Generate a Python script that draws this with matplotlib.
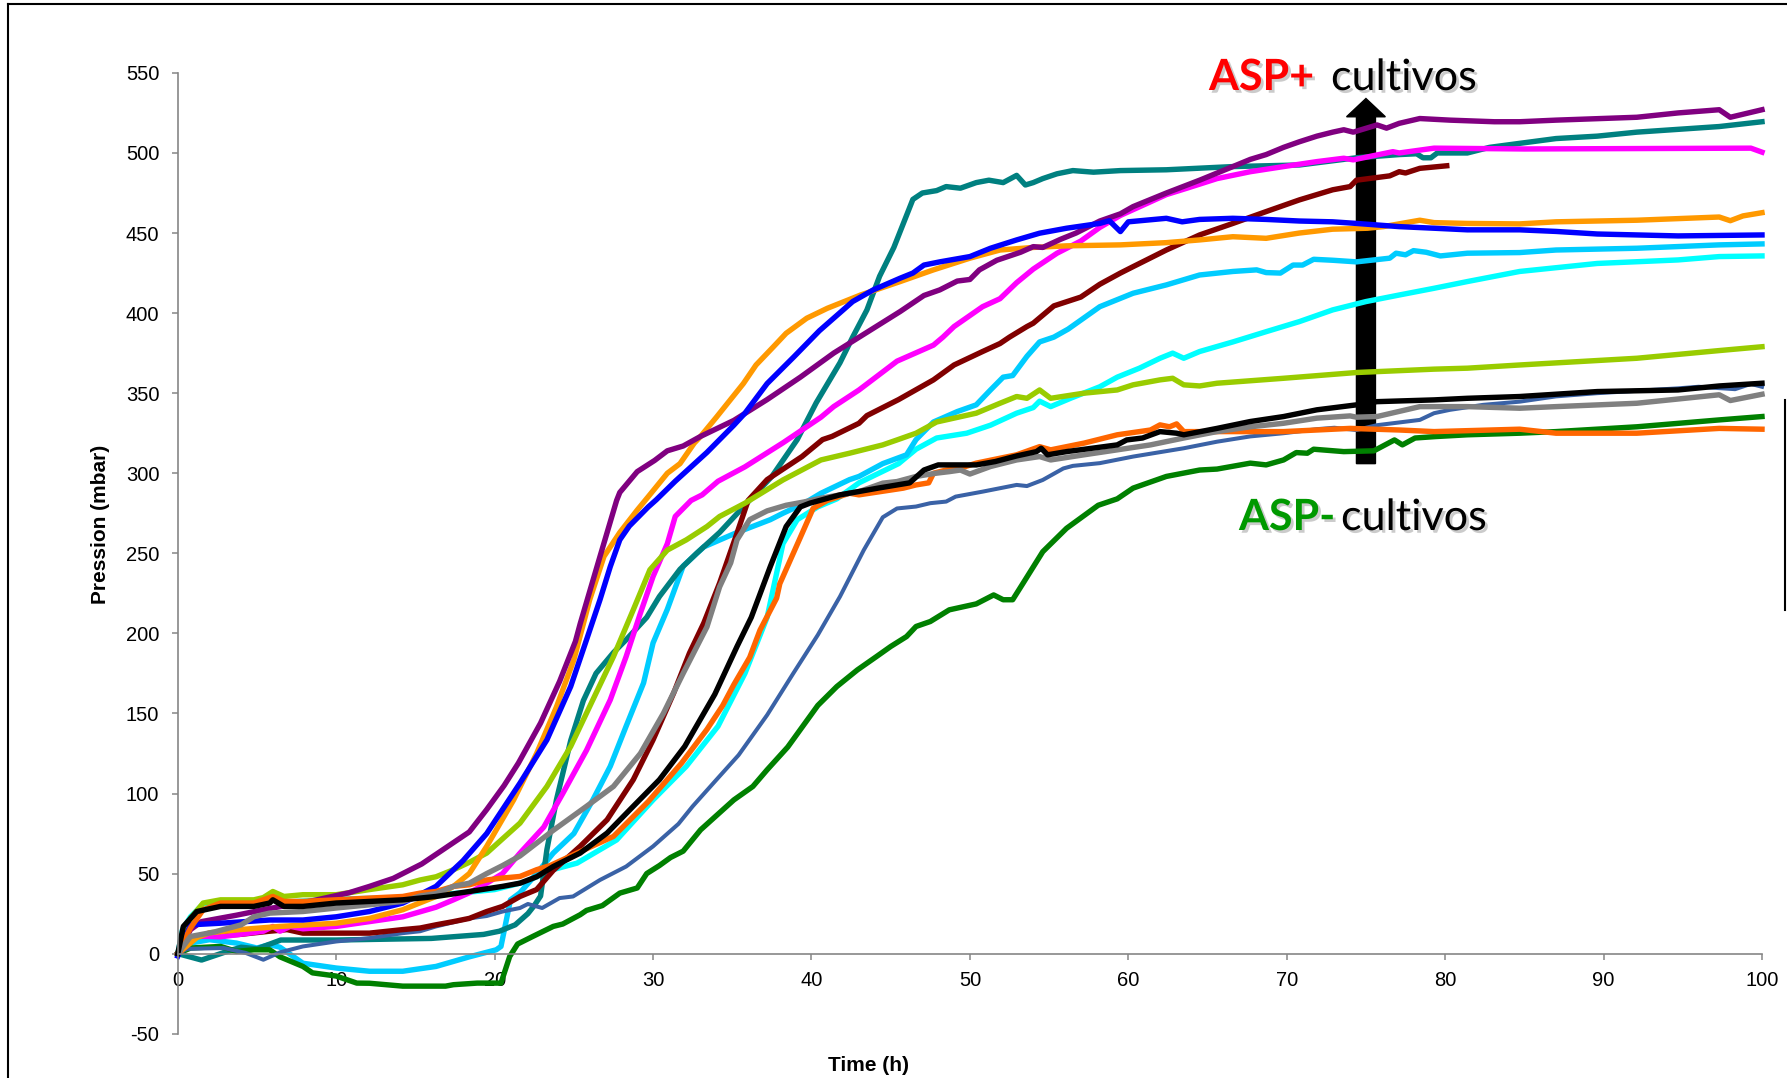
import matplotlib
matplotlib.use("Agg")
import matplotlib.pyplot as plt
import matplotlib.patheffects as pe
from matplotlib.lines import Line2D

plt.rcParams['axes.unicode_minus'] = False

## Pressure curves (time in h, pressure in mbar)
t_purple = [0, 0.8, 1.5, 3.7, 5.7, 8.5, 10.8, 12.1, 13.6, 15.4, 17.2, 18.4, 19.5, 20.6, 21.5, 22.9, 24.1, 25.1, 25.4, 26.65, 27.7, 27.9, 29.0, 30.1, 30.9, 31.9, 33.0, 35.1, 37.2, 39.3, 41.4, 43.5, 45.6, 47.1, 48.1, 49.2, 50.0, 50.6, 51.7, 53.2, 54.0, 54.6, 55.7, 56.7, 58.2, 59.5, 60.3, 62.4, 64.5, 66.6, 67.7, 68.7, 69.8, 70.8, 71.9, 72.9, 73.6, 74.2, 75.7, 76.3, 77.1, 78.4, 80.3, 83.1, 84.7, 87, 92.1, 94.7, 97.3, 98, 100]
p_purple = [0, 15, 20, 24, 28, 33, 38, 42, 47, 56, 68, 76, 90, 105, 119, 144, 170, 195, 206, 248, 283, 288, 301, 308, 314, 317, 323, 333, 346, 360, 375, 388, 401, 411, 414.5, 420, 421, 427, 433, 438, 441.5, 441, 446, 450, 457.5, 462, 466.5, 475, 483, 491.5, 496, 499, 503.5, 507, 510.5, 513, 514.5, 513, 517.5, 515.5, 518.5, 521.5, 520.5, 519.5, 519.5, 520.5, 522.3, 525, 527, 522.3, 527]

t_teal = [0, 1.5, 3, 4, 5, 6.5, 10, 16, 19.3, 20.3, 21.3, 22.1, 22.5, 22.9, 23.3, 23.9, 24.8, 25.6, 26.4, 27.5, 28.3, 29.6, 30.4, 31.7, 32.75, 34.2, 35.7, 37.5, 39.1, 40.3, 41.8, 42.6, 43.5, 44.3, 45.2, 46.4, 47.0, 47.9, 48.5, 49.4, 50.4, 51.2, 52.1, 52.95, 53.5, 54.0, 54.6, 55.5, 56.5, 57.8, 59.5, 62.4, 66.6, 70.8, 74.4, 77.1, 78.2, 78.6, 79.1, 79.5, 81.4, 82.8, 84.7, 87, 89.6, 92.1, 97.3, 100]
p_teal = [0, -4, 1, 4, 3, 8.5, 8.5, 9.5, 12, 14, 18, 25, 30, 36, 65, 96, 133, 158, 175, 188, 196, 210, 223, 240, 250, 263, 279, 298, 321, 344, 369, 385, 402, 423, 441, 471, 475, 476.5, 479, 478, 481.5, 483, 481.5, 486, 480, 481.5, 484, 487, 489, 488, 489, 489.5, 491.5, 492.5, 497, 499, 499.5, 497, 497, 500, 500, 503.5, 506, 509, 510.5, 513, 516.5, 519.5]

t_magenta = [0, 1.2, 2.7, 3.9, 5.4, 6.0, 6.45, 7.1, 7.9, 10, 12.1, 14.2, 16.3, 17.4, 18.4, 19.5, 20.5, 21.6, 23.1, 24.3, 25.8, 27.3, 28.3, 29.2, 30.0, 30.9, 31.4, 32.4, 33.1, 34.1, 35.8, 38.2, 40.6, 41.4, 43.0, 45.4, 47.7, 48.3, 49.0, 50.8, 51.9, 52.95, 54.0, 55.5, 57.0, 58.2, 59.5, 61.2, 62.4, 63.7, 65.6, 67.7, 69.8, 71.9, 73.6, 74.2, 76.7, 77.1, 79.3, 85, 99.3, 100]
p_magenta = [0, 11, 10.5, 12, 14, 17, 14, 17, 15.5, 17, 20, 23, 29, 33.6, 38, 44, 50, 62.8, 79, 100, 127, 158.5, 185.5, 212.6, 235.5, 256, 273, 283, 286.5, 295, 304, 319, 335, 341.6, 352, 370, 380, 385, 391.6, 404, 409, 419, 427.5, 437.4, 445, 453.5, 461, 468.6, 474, 478, 484, 488.3, 491.5, 494.6, 496.7, 495.7, 500.8, 500, 503, 502.5, 503, 500.5]

t_darkred = [0, 1.2, 3.9, 5.8, 6.9, 7.9, 12.1, 14.2, 15.3, 16.3, 17.4, 18.4, 19.5, 20.5, 21.6, 22.65, 23.7, 25.4, 27.1, 28.75, 30.0, 31.3, 32.3, 33.2, 34.2, 35.3, 36.0, 37.2, 39.4, 40.7, 41.3, 43.0, 43.5, 45.5, 47.7, 49.0, 50.8, 51.9, 52.5, 53.6, 54.0, 55.3, 57.0, 58.2, 59.5, 60.3, 62.4, 64.5, 66.6, 68.7, 70.8, 72.9, 74.0, 74.4, 76.5, 77.1, 77.5, 78.4, 80.1]
p_darkred = [0, 10.7, 12, 14, 15, 12.8, 12.8, 15, 16, 18, 20, 22, 26.3, 29.5, 35.7, 40, 52, 67, 83.6, 108.6, 133.5, 162.7, 187.7, 206.4, 231.4, 262.6, 283, 296, 310.4, 321, 323, 331.2, 336, 346, 358.3, 367.6, 376, 381, 385, 391.6, 393.7, 404.5, 410, 418, 425, 429, 439.4, 448.8, 456, 463.4, 470.7, 477, 479, 483, 485.7, 488.3, 487.5, 490.4, 492]

t_orange = [0, 1.2, 2.0, 3.9, 6.45, 10, 12.1, 14.2, 16.3, 17.4, 18.4, 19.5, 21.2, 22.65, 23.9, 25.0, 26.0, 26.9, 27.9, 29.0, 29.7, 30.9, 31.7, 32.6, 33.0, 34.0, 35.7, 36.5, 37.6, 38.4, 39.7, 41.0, 43.1, 45.6, 47.7, 50.0, 51.9, 54.0, 56.1, 59.5, 62.4, 64.5, 66.6, 68.7, 70.8, 72.9, 75.1, 76.1, 78.4, 79.3, 81.4, 84.7, 87, 92.1, 97.3, 98.0, 98.8, 100]
p_orange = [0, 10, 13, 15, 17, 19, 22, 27.4, 35.7, 42, 50, 67, 96, 125, 154, 183.5, 221, 248, 263, 277, 285.4, 300, 306, 318.8, 323, 335, 356, 367.6, 379, 387.4, 396.8, 403, 411.3, 419.7, 427, 434.3, 439.4, 441, 442, 442.6, 444, 445.7, 447.7, 446.7, 450, 452.4, 453, 454, 458, 456.5, 456, 455.7, 457, 458, 460, 457.7, 460.7, 462.7]

t_blue = [0, 0.8, 2.7, 5.8, 7.9, 10, 12.1, 14.2, 15.3, 16.3, 17.4, 18.0, 19.5, 21.6, 23.3, 24.8, 25.8, 26.65, 27.3, 27.9, 28.5, 29.7, 30.2, 31.4, 33.4, 35.1, 35.8, 37.2, 38.9, 40.5, 42.6, 43.9, 45.6, 46.4, 47.1, 48.1, 50.0, 51.3, 52.95, 54.4, 56.1, 58.2, 58.8, 59.5, 60.0, 62.4, 63.4, 64.5, 66.6, 68.7, 70.8, 72.9, 74.4, 77.1, 79.3, 81.4, 84.7, 87, 89.6, 94.7, 100]
p_blue = [-1.5, 18, 19, 21, 21, 23, 26.3, 31.6, 37, 42, 52.4, 58, 75, 106.5, 133.5, 166.8, 196, 221, 241.7, 258.4, 267, 279, 283.4, 295, 313, 330, 337.5, 356, 372.8, 389, 407.2, 414.5, 421.8, 425, 430, 432, 435.3, 440.5, 445.7, 449.9, 453, 456, 457.7, 450.9, 457, 459.2, 457, 458.5, 459.2, 458.5, 457.5, 457, 456, 454, 453, 452, 452, 451, 449.4, 448.2, 448.8]

t_skyblue = [0, 0.8, 2.0, 3.7, 5.0, 5.8, 6.45, 7.9, 10, 12.1, 14.2, 16.3, 18.4, 20.1, 20.4, 21.0, 21.6, 22.65, 23.7, 25.0, 26.2, 27.3, 28.3, 29.4, 30.0, 30.9, 31.9, 33.2, 35.3, 37.4, 38.2, 39.5, 40.6, 42.4, 43.0, 44.5, 46.0, 46.6, 47.7, 49.2, 50.4, 51.3, 52.1, 52.7, 53.6, 54.4, 55.3, 56.2, 58.2, 60.3, 62.4, 64.5, 66.6, 68.1, 68.7, 69.6, 70.4, 71.0, 71.7, 72.9, 74.4, 76.5, 76.9, 77.5, 78.0, 78.8, 79.7, 81.4, 84.7, 87, 92.1, 97.3, 100]
p_skyblue = [0, 6.6, 8.7, 6.6, 3.5, 5.6, 4, -6, -9, -11, -11, -8, -2, 2.4, 4.5, 33.6, 38, 50, 62.8, 75, 96, 117, 142, 169, 194, 215, 242, 254, 263, 271, 275, 281, 287.5, 296, 298, 306, 311.5, 321, 332, 338.5, 342.7, 352, 360, 361, 373, 382, 385, 390, 404, 412.4, 417.6, 423.8, 426, 427, 425.3, 425, 430, 430, 433.6, 433, 432, 434.3, 437.4, 436.4, 439, 438, 435.7, 437.4, 437.8, 439.4, 440.5, 442.6, 443.2]

t_cyan = [0, 0.3, 0.8, 1.6, 3, 5, 6, 6.5, 10, 14, 18, 20, 22, 23.5, 25.2, 27.7, 30.0, 32.1, 34.1, 35.8, 37.2, 38.2, 39.1, 40.4, 41.6, 43.0, 45.5, 46.6, 47.9, 49.8, 51.3, 52.95, 54.0, 54.4, 55.1, 56.4, 58.2, 59.3, 60.7, 62.0, 62.8, 63.5, 64.5, 66.6, 68.7, 70.8, 72.9, 75.0, 77.1, 79.3, 81.4, 84.7, 89.6, 94.7, 97.3, 100]
p_cyan = [0, 15, 23, 31, 32, 32, 35, 32, 34, 35, 38, 40, 45, 52, 56.5, 71, 96, 117, 142, 175, 210, 256, 271, 279, 284, 294, 306, 315, 322, 325, 330, 337.5, 341, 345, 341.6, 347, 354, 360, 365.6, 371.8, 375, 371.8, 376, 382, 388.4, 394.7, 402, 407.2, 411.3, 415.5, 419.7, 426, 431, 433.2, 435.3, 435.7]

t_ygreen = [0, 0.8, 1.6, 2.7, 4.8, 5.4, 6.0, 6.7, 7.9, 10, 12.1, 14.2, 15.3, 16.3, 17.4, 18.4, 19.5, 21.6, 23.3, 24.8, 26.2, 27.5, 28.75, 29.8, 30.9, 32.1, 33.4, 34.2, 35.8, 38.2, 40.6, 42.4, 44.5, 45.4, 46.6, 47.9, 50.4, 51.9, 52.95, 53.6, 54.4, 55.1, 57.2, 59.3, 60.3, 62.0, 62.8, 63.5, 64.5, 65.6, 69.8, 74.4, 79.3, 81.4, 84.7, 92.1, 97.3, 100]
p_ygreen = [0, 22, 31.6, 33.6, 33.6, 35, 38.8, 35.7, 36.8, 36.8, 40, 43, 46, 48, 52.4, 57, 62.8, 81.5, 104.4, 129.4, 158.5, 185.5, 214.7, 239.7, 252, 258.4, 266.7, 273, 281.3, 295.8, 308.3, 312.5, 317.7, 320.8, 325, 332, 337.5, 343.7, 347.9, 346.8, 352, 346.8, 350, 352, 355.2, 358.3, 359.3, 355.2, 354.5, 356.2, 359.3, 362.9, 365, 365.6, 367.6, 371.8, 376.6, 379]

t_black = [0, 0.35, 1.2, 2.7, 4.8, 5.8, 6.0, 6.7, 7.9, 10, 12.1, 14.2, 16.3, 18.4, 20.5, 21.6, 22.65, 23.7, 25.4, 27.1, 28.75, 30.4, 32.0, 33.9, 35.3, 36.2, 37.4, 38.4, 39.3, 39.9, 41.8, 44.2, 46.2, 47.1, 48.0, 50.4, 51.6, 52.95, 54.2, 54.5, 54.9, 56.1, 59.3, 59.9, 60.9, 62.0, 63.05, 63.5, 65.6, 67.7, 69.8, 71.9, 74.4, 75.7, 79.3, 81.4, 84.7, 89.6, 94.7, 97.3, 100]
p_black = [0, 17, 26.3, 29.5, 29.5, 31.6, 33.6, 29.5, 29.5, 31.6, 32.6, 33.6, 35.7, 38.8, 42, 44, 48, 54.4, 62.8, 75.3, 92, 108.6, 129.4, 162, 191.8, 210, 241.7, 266.7, 279, 281.3, 286.5, 290.7, 294, 302, 305.2, 305.2, 307.3, 310.8, 313.5, 315.6, 311.5, 313.5, 317.7, 320.8, 322, 326, 325, 324, 328, 332.3, 335.4, 339.6, 342.7, 344.7, 345.8, 346.8, 347.9, 351, 352, 354.5, 356.2]

t_steel = [0, 0.6, 2.9, 4.3, 5.4, 6.45, 7.9, 10, 12.1, 14.2, 15.3, 16.3, 18.4, 19.5, 20.5, 21.6, 22.1, 23.0, 24.1, 24.95, 26.65, 28.3, 30.0, 31.6, 32.5, 34.0, 35.4, 37.2, 38.85, 40.4, 41.8, 43.3, 44.5, 45.4, 46.6, 47.5, 48.5, 49.1, 50.8, 52.95, 53.6, 54.6, 55.9, 56.5, 58.2, 60.3, 63.5, 65.6, 67.7, 69.8, 71.9, 73.0, 74.4, 75.7, 78.4, 79.3, 80.3, 82.4, 84.7, 87, 89.6, 94.7, 96.0, 98.3, 99.3, 100]
p_steel = [0, 3, 3.5, 0.4, -3.8, 0.8, 4.5, 7.6, 9.7, 12.8, 14, 17, 22, 23.5, 26.3, 28.5, 31, 28.5, 34.7, 35.7, 46, 54.4, 67, 81, 92, 108.6, 124, 149, 175, 199, 223, 252, 272.5, 278, 279.2, 281.3, 282.3, 285.4, 288.5, 292.7, 292, 295.8, 303, 304.6, 306.3, 310.4, 315.6, 319.7, 323, 325, 327.5, 328.4, 327, 330, 333.3, 337.5, 339.6, 342.7, 344.7, 348, 350, 353, 354, 352.5, 355.8, 354]

t_gray = [0, 0.8, 2.3, 4.0, 4.8, 5.8, 7.9, 10, 12.1, 14.2, 15.3, 16.3, 17.4, 18.4, 19.5, 20.5, 21.6, 23.7, 25.8, 27.5, 29.2, 30.65, 31.9, 33.4, 34.2, 34.9, 35.3, 36.1, 37.2, 38.4, 39.5, 40.6, 43.0, 44.5, 45.4, 46.6, 47.85, 48.7, 49.4, 50.0, 51.3, 52.95, 54.4, 55.1, 57.2, 59.3, 61.4, 63.5, 65.6, 67.7, 69.8, 71.9, 74.0, 74.4, 75.7, 78.4, 81.4, 84.7, 87, 92.1, 97.3, 98, 100]
p_gray = [0, 10.7, 13.5, 18, 23, 25.3, 26.3, 28.5, 30.5, 32.6, 36, 37.5, 42, 44, 50, 55, 61, 77, 92, 104.4, 125, 150, 175, 204, 229, 244, 258.4, 271, 276.5, 280, 282, 284.4, 288.5, 293.8, 294.8, 298, 300, 301, 302, 299.5, 304.2, 308.3, 310.4, 308.3, 311.5, 314.6, 317.7, 322, 326, 329, 331.2, 334.4, 335.8, 335, 335.4, 341.6, 341.6, 340.6, 341.6, 343.7, 349, 345.4, 349.3]

t_green = [0, 0.8, 2.7, 3.7, 4.8, 5.8, 6.45, 7.9, 8.5, 10, 11.3, 12.1, 14.2, 16.9, 17.4, 18.9, 20.4, 20.95, 21.45, 22.4, 23.7, 24.3, 25.4, 25.8, 26.8, 27.9, 29.0, 29.6, 30.4, 31.1, 31.9, 33.0, 34.2, 35.1, 36.3, 37.2, 38.5, 40.4, 41.6, 42.9, 44.1, 45.0, 46.0, 46.6, 47.5, 48.7, 50.4, 51.5, 52.1, 52.7, 53.4, 54.6, 56.1, 58.1, 59.3, 60.3, 62.4, 64.5, 65.6, 67.7, 68.7, 69.8, 70.6, 71.3, 71.7, 73.6, 75.5, 76.8, 77.3, 78.1, 79.4, 81.4, 84.7, 87, 92.1, 97.3, 100]
p_green = [0, 3.5, 4.5, 1.4, 2.4, 2.4, -2, -8, -12, -14, -18.4, -18.5, -20.3, -20.3, -19.4, -18.4, -18.4, -1.8, 6, 10.7, 17, 18.5, 24.3, 27, 30, 37.8, 41, 50, 55, 60, 64, 77.3, 88, 96, 104.4, 114.8, 129, 155, 166.8, 177.2, 185.5, 191.8, 198, 204.3, 207.4, 214.7, 218.4, 224, 221, 221, 232, 251, 265.6, 280, 284, 290.7, 298, 302, 302.6, 306.3, 305.2, 308.3, 312.9, 312.5, 315, 313.5, 314, 320.8, 317.7, 322, 322.9, 324, 325, 326, 329, 333.3, 335.4]

t_dorange = [0, 0.8, 1.6, 2.7, 4.8, 6.0, 6.7, 7.9, 10, 12.1, 14.2, 15.3, 16.3, 17.4, 18.4, 19.5, 20.5, 21.6, 22.65, 23.5, 25.2, 27.5, 29.7, 31.8, 33.4, 34.4, 35.1, 36.1, 36.75, 37.8, 38.0, 39.3, 40.1, 41.0, 42.4, 43.0, 45.8, 46.6, 47.4, 47.7, 48.5, 49.5, 50.4, 52.95, 54.4, 55.1, 57.2, 59.3, 61.4, 62.0, 62.6, 63.05, 63.5, 69.8, 74, 77.1, 79.3, 84.7, 87, 92.1, 97.3, 100]
p_dorange = [0, 16, 27.4, 31.6, 31.6, 35.7, 32.6, 32.6, 33.6, 34.7, 35.7, 37.8, 38.8, 42, 43, 46, 47.2, 48.2, 52.4, 55, 62.8, 73.2, 95, 119, 140, 155, 168, 185, 202, 222, 231, 260, 278, 283, 287.5, 286.5, 290.7, 292.7, 294, 300, 302, 303.5, 306.3, 311.5, 316.6, 314.6, 318.8, 324, 327, 330.2, 329, 330.8, 326, 326, 328, 327, 326, 327.5, 325, 325, 328, 327.5]

series = [
    (t_cyan, p_cyan, '#00FFFF', 3.9),
    (t_skyblue, p_skyblue, '#00CCFF', 3.9),
    (t_teal, p_teal, '#008080', 3.9),
    (t_green, p_green, '#008000', 3.9),
    (t_steel, p_steel, '#3A62A6', 2.9),
    (t_darkred, p_darkred, '#800000', 3.9),
    (t_magenta, p_magenta, '#FF00FF', 3.9),
    (t_ygreen, p_ygreen, '#99CC00', 3.9),
    (t_orange, p_orange, '#FF9900', 3.9),
    (t_purple, p_purple, '#800080', 3.9),
    (t_blue, p_blue, '#0000FF', 3.9),
    (t_dorange, p_dorange, '#FF6600', 3.9),
    (t_gray, p_gray, '#808080', 3.9),
    (t_black, p_black, '#000000', 3.9),
]

W, H = 1787, 1078
fig = plt.figure(figsize=(W / 100, H / 100), dpi=100)
ax = fig.add_axes([177.8 / W, 1 - 1033.7 / H, (1762 - 177.8) / W, (1033.7 - 72.9) / H])

for t, p, c, lw in series:
    ax.plot(t, p, color=c, lw=lw, solid_joinstyle='round', clip_on=False)

ax.set_xlim(0, 100)
ax.set_ylim(-50, 550)
ax.set_xticks(range(0, 101, 10))
ax.set_yticks(range(-50, 551, 50))
ax.spines['top'].set_visible(False)
ax.spines['right'].set_visible(False)
ax.spines['bottom'].set_position(('data', 0))
for s in ['left', 'bottom']:
    ax.spines[s].set_color('#868686')
    ax.spines[s].set_linewidth(1.2)
ax.tick_params(direction='out', length=4.3, width=1.1, color='#868686',
               labelsize=14.5, labelcolor='black')
ax.tick_params(axis='y', pad=9)
ax.tick_params(axis='x', pad=8)
for lab in ax.get_xticklabels() + ax.get_yticklabels():
    lab.set_fontfamily('Liberation Sans')

## axis titles placed where they sit in the original
fig.text(868.5 / W, 1 - 1065.6 / H, 'Time (h)', ha='center', va='center',
         fontsize=15, fontweight='bold', family='Liberation Sans')
fig.text(100.3 / W, 1 - 524.3 / H, 'Pression (mbar)', ha='center', va='center',
         rotation=90, fontsize=15, fontweight='bold', family='Liberation Sans')

## big arrow
ax.arrow(75, 306, 0, 228, width=1.2, head_width=2.45, head_length=11.4,
         length_includes_head=True, color='black', clip_on=False)

shadow = [pe.SimplePatchShadow(offset=(2, -2), shadow_rgbFace='#999999', alpha=0.5), pe.Normal()]
fig.text(1209 / W, 1 - 90 / H, 'ASP+', color='#FF0000', fontsize=31, fontweight='bold',
         family='Lato', va='baseline', path_effects=shadow)
fig.text(1331 / W, 1 - 90 / H, 'cultivos', color='black', fontsize=31,
         family='Lato', va='baseline', path_effects=shadow)
fig.text(1239 / W, 1 - 530 / H, 'ASP-', color='#009900', fontsize=31, fontweight='bold',
         family='Lato', va='baseline', path_effects=shadow)
fig.text(1341 / W, 1 - 530 / H, 'cultivos', color='black', fontsize=31,
         family='Lato', va='baseline', path_effects=shadow)

## outer frame (partly cut off in the original)
fig.add_artist(Line2D([8 / W, 8 / W], [0, 1 - 4 / H], color='black', lw=1.5))
fig.add_artist(Line2D([8 / W, 1], [1 - 4 / H, 1 - 4 / H], color='black', lw=1.5))
fig.add_artist(Line2D([1785 / W, 1785 / W], [1 - 610 / H, 1 - 400 / H], color='black', lw=1.5))

fig.savefig('out.png', dpi=100)
